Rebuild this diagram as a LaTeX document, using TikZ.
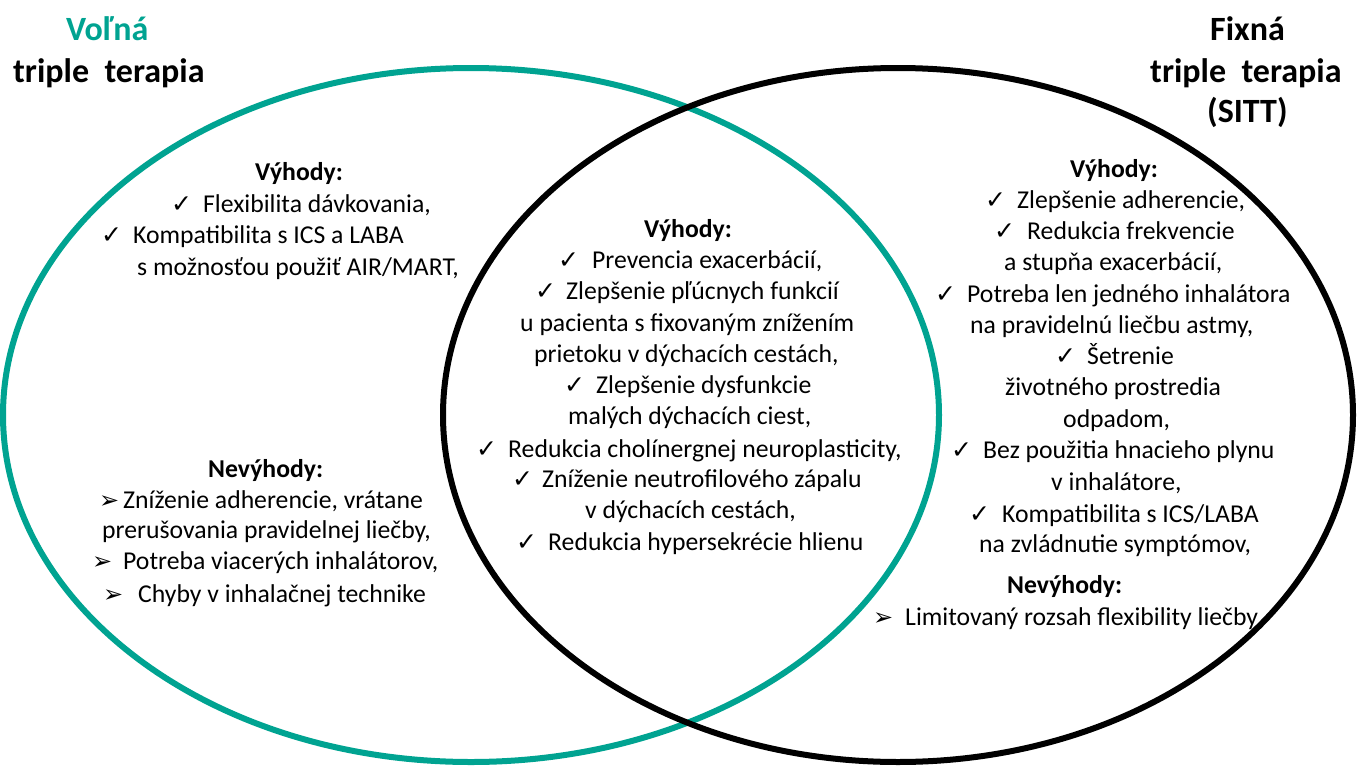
\documentclass[tikz,border=0pt]{standalone}
\usepackage{fontspec}
\setmainfont{Carlito}
\newfontfamily\dejavu{DejaVu Sans}
\definecolor{vteal}{RGB}{0,163,145}
\tikzset{
  txt/.style={anchor=base west, inner sep=0pt, font=\fontsize{25.7}{31}\selectfont},
  hdr/.style={anchor=base west, inner sep=0pt, font=\fontsize{25.7}{31}\selectfont\bfseries},
  ttl/.style={anchor=base west, inner sep=0pt, font=\fontsize{34}{42}\selectfont\bfseries},
  chk/.style={anchor=base west, inner sep=0pt, font=\dejavu\fontsize{25}{25}\selectfont},
  arr/.style={anchor=base west, inner sep=0pt, font=\dejavu\fontsize{24}{24}\selectfont},
  ring/.style={line width=6pt}
}
\begin{document}
\begin{tikzpicture}[x=1pt,y=-1pt]
\useasboundingbox (0,0) rectangle (1358,766);
% ellipses
\draw[ring, draw=vteal] (471,415) ellipse [x radius=468, y radius=347];
\draw[ring, draw=black] (898,415) ellipse [x radius=455, y radius=347];
% titles
\node[ttl, text=vteal] (tl1) at (66,40) {Voľná};
\node[ttl] (tl2) at (13,82) {triple\ \ terapia};
\node[ttl] (tr1) at (1210,40) {Fixná};
\node[ttl] (tr2) at (1150,82) {triple\ \ terapia};
\node[ttl] (tr3) at (1207,122) {(SITT)};
% left advantages
\node[hdr] (lh) at (255,180) {Výhody:};
\node[chk] (lc1) at (171,212) {✓};
\node[txt] (lt1) at (203,212) {Flexibilita dávkovania,};
\node[chk] (lc2) at (101,243) {✓};
\node[txt] (lt2) at (133,243) {Kompatibilita s ICS a LABA};
\node[txt] (lt3) at (137,275) {s možnosťou použiť AIR/MART,};
% left disadvantages
\node[hdr] (ln) at (208,477) {Nevýhody:};
\node[arr] (la1) at (99,508) {➢};
\node[txt] (ln1) at (123,508) {Zníženie adherencie, vrátane};
\node[txt] (ln2) at (102,538) {prerušovania pravidelnej liečby,};
\node[arr] (la2) at (92,569) {➢};
\node[txt] (ln3) at (123,569) {Potreba viacerých inhalátorov,};
\node[arr] (la3) at (103,602) {➢};
\node[txt] (ln4) at (138,602) {Chyby v inhalačnej technike};
% middle advantages
\node[hdr] (mh) at (644,237) {Výhody:};
\node[chk] (mc1) at (558,268) {✓};
\node[txt] (mt1) at (592,268) {Prevencia exacerbácií,};
\node[chk] (mc2) at (535,299) {✓};
\node[txt] (mt2) at (566,299) {Zlepšenie pľúcnych funkcií};
\node[txt] (mt3) at (520,331) {u pacienta s fixovaným znížením};
\node[txt] (mt4) at (534,362) {prietoku v dýchacích cestách,};
\node[chk] (mc3) at (564,393) {✓};
\node[txt] (mt5) at (596,393) {Zlepšenie dysfunkcie};
\node[txt] (mt6) at (568,424) {malých dýchacích ciest,};
\node[chk] (mc4) at (476,457) {✓};
\node[txt] (mt7) at (508,457) {Redukcia cholínergnej neuroplasticity,};
\node[chk] (mc5) at (512,487) {✓};
\node[txt] (mt8) at (542,487) {Zníženie neutrofilového zápalu};
\node[txt] (mt9) at (585,518) {v dýchacích cestách,};
\node[chk] (mc6) at (516,550) {✓};
\node[txt] (mt10) at (548,550) {Redukcia hypersekrécie hlienu};
% right advantages
\node[hdr] (rh) at (1070,177) {Výhody:};
\node[chk] (rc1) at (985,208) {✓};
\node[txt] (rt1) at (1017,208) {Zlepšenie adherencie,};
\node[chk] (rc2) at (994,239) {✓};
\node[txt] (rt2) at (1027,239) {Redukcia frekvencie};
\node[txt] (rt3) at (1004,270) {a stupňa exacerbácií,};
\node[chk] (rc3) at (935,302) {✓};
\node[txt] (rt4) at (967,302) {Potreba len jedného inhalátora};
\node[txt] (rt5) at (970,333) {na pravidelnú liečbu astmy,};
\node[chk] (rc4) at (1055,364) {✓};
\node[txt] (rt6) at (1087,364) {Šetrenie};
\node[txt] (rt7) at (1005,395) {životného prostredia};
\node[txt] (rt8) at (1063,427) {odpadom,};
\node[chk] (rc5) at (951,458) {✓};
\node[txt] (rt9) at (983,458) {Bez použitia hnacieho plynu};
\node[txt] (rt10) at (1051,490) {v inhalátore,};
\node[chk] (rc6) at (969,522) {✓};
\node[txt] (rt11) at (1002,522) {Kompatibilita s ICS/LABA};
\node[txt] (rt12) at (979,552) {na zvládnutie symptómov,};
% right disadvantages
\node[hdr] (rn) at (1007,593) {Nevýhody:};
\node[arr] (ra1) at (873,625) {➢};
\node[txt] (rn1) at (905,625) {Limitovaný rozsah flexibility liečby};
\end{tikzpicture}
\end{document}
